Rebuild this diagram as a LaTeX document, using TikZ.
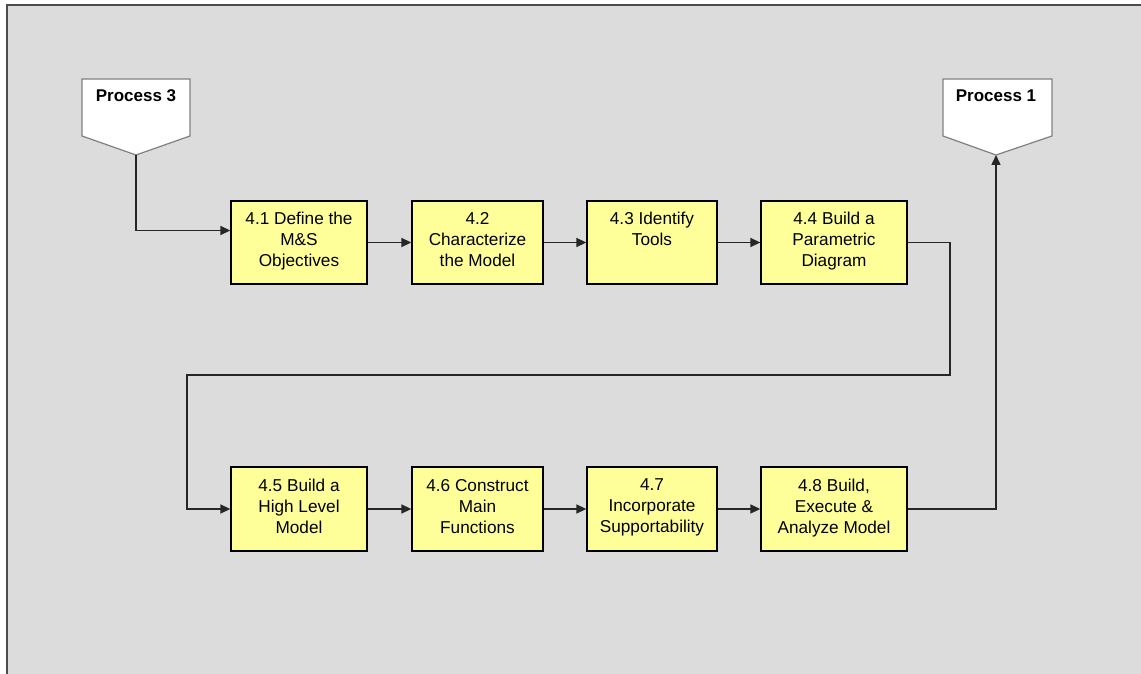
\documentclass[tikz,border=0pt]{standalone}
\usepackage{fontspec}
\setmainfont{Liberation Sans}
\usetikzlibrary{arrows.meta}
\definecolor{pagegray}{HTML}{DCDCDC}
\definecolor{stepyellow}{HTML}{FFFF99}
\tikzset{
  stepbox/.style={draw=black, line width=1.3pt, fill=stepyellow, minimum height=83pt,
    align=center, inner sep=2pt, font=\fontsize{17.2}{21}\selectfont,
    execute at end node={\rule[-6pt]{0pt}{0pt}}},
  procshape/.style={draw=gray, line width=1.2pt, fill=white},
  proctext/.style={font=\fontsize{17}{20}\selectfont\bfseries, inner sep=0pt},
  flow/.style={line width=1.5pt, draw=black!85, -{Triangle[length=10pt,width=9pt]}},
}
\begin{document}
\begin{tikzpicture}[x=1pt,y=-1pt]
	\useasboundingbox (0,0) rectangle (1141,674);
	\fill[pagegray] (7,5) rectangle (1141,674);
	\draw[black!70, line width=1.5pt] (7,674) -- (7,5) -- (1141,5);
	% process markers
	\draw[procshape] (82,79) -- (190,79) -- (190,136) -- (136,155) coordinate (p3tip) -- (82,136) -- cycle;
	\node[proctext] (p3) at (136,96) {Process 3};
	\draw[procshape] (943,79) -- (1052,79) -- (1052,136) -- (996,155) coordinate (p1tip) -- (943,136) -- cycle;
	\node[proctext] (p1) at (996,96) {Process 1};
	% top row
	\node[stepbox, minimum width=136pt] (s41) at (299,242.5) {4.1 Define the\\M\&S\\Objectives};
	\node[stepbox, minimum width=131pt] (s42) at (477.5,242.5) {4.2\\Characterize\\the Model};
	\node[stepbox, minimum width=130pt] (s43) at (652,242.5) {4.3 Identify\\Tools\\};
	\node[stepbox, minimum width=146pt] (s44) at (834,242.5) {4.4 Build a\\Parametric\\Diagram};
	% bottom row
	\node[stepbox, minimum width=136pt, minimum height=84pt] (s45) at (299,509) {4.5 Build a\\High Level\\Model};
	\node[stepbox, minimum width=131pt, minimum height=84pt] (s46) at (477.5,509) {4.6 Construct\\Main\\Functions};
	\node[stepbox, minimum width=130pt, minimum height=84pt] (s47) at (652,509) {4.7\\Incorporate\\Supportability};
	\node[stepbox, minimum width=146pt, minimum height=84pt] (s48) at (834,509) {4.8 Build,\\Execute \&\\Analyze Model};
	\coordinate (turnR) at (950,375);
	\coordinate (turnL) at (187,375);
	% connectors
	\draw[flow] (p3tip) |- ([yshift=12pt]s41.west);
	\draw[flow] (s41) -- (s42);
	\draw[flow] (s42) -- (s43);
	\draw[flow] (s43) -- (s44);
	\draw[flow] (s44.east) -| (turnR) -- (turnL) |- (s45.west);
	\draw[flow] (s45) -- (s46);
	\draw[flow] (s46) -- (s47);
	\draw[flow] (s47) -- (s48);
	\draw[flow] (s48.east) -| (p1tip);
\end{tikzpicture}
\end{document}
